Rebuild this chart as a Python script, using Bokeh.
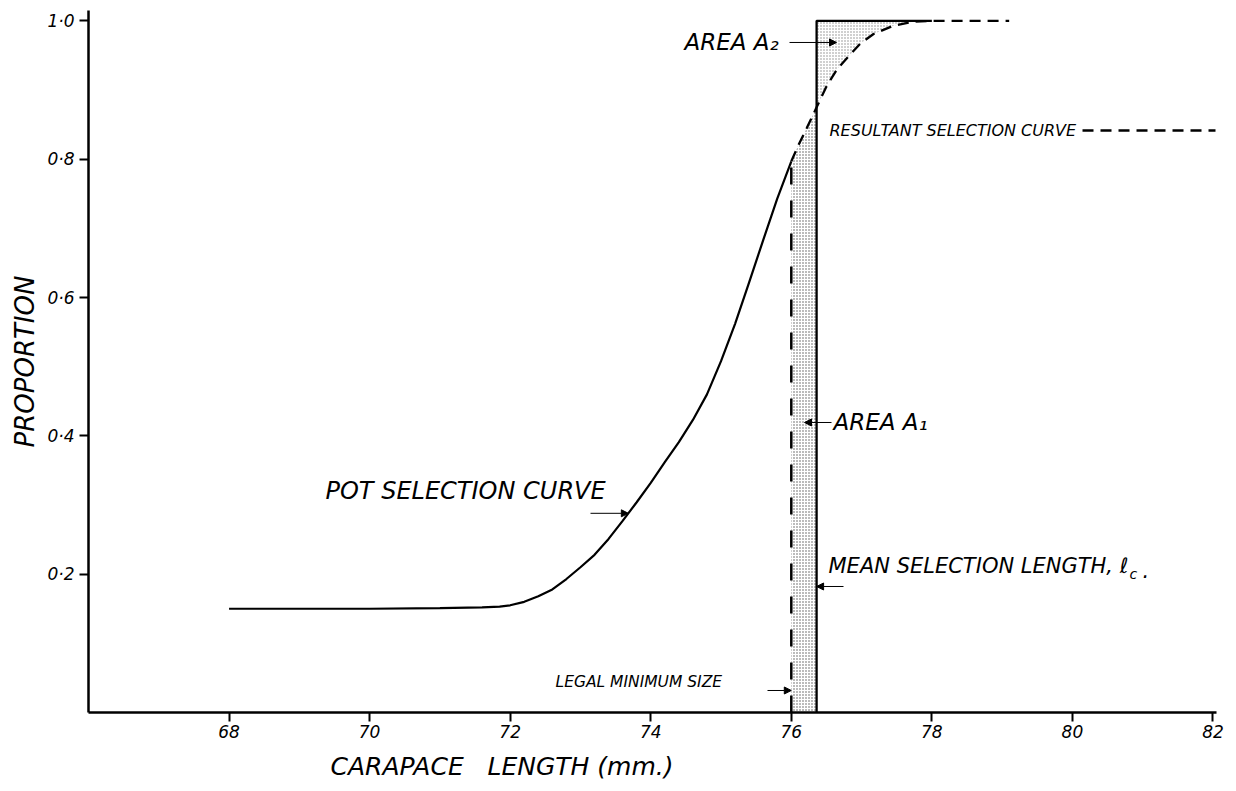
import numpy as np
from bokeh.plotting import figure
from bokeh.models import Range1d, Label, Arrow, NormalHead, FixedTicker, Title
from bokeh.embed import file_html
from bokeh.resources import INLINE

# Pot selection curve: proportion retained against carapace length (mm)
pot_length = [68.0, 69.0, 70.0, 71.0, 71.6, 71.85, 72.0, 72.2, 72.4, 72.6,
              72.8, 73.0, 73.2, 73.4, 73.6, 73.8, 74.0, 74.2, 74.4, 74.6,
              74.8, 75.0, 75.2, 75.4, 75.6, 75.8, 76.0]
pot_prop = [0.150, 0.150, 0.150, 0.151, 0.152, 0.153, 0.155, 0.160, 0.168, 0.178,
            0.193, 0.210, 0.228, 0.251, 0.277, 0.304, 0.332, 0.362, 0.391, 0.423,
            0.460, 0.508, 0.562, 0.622, 0.683, 0.743, 0.797]

# Resultant selection curve once the legal minimum size applies
res_length = [76.0, 76.1, 76.22, 76.36, 76.5, 76.65, 76.8, 76.98, 77.17, 77.45,
              77.74, 78.0, 79.1]
res_prop = [0.797, 0.820, 0.845, 0.875, 0.905, 0.930, 0.947, 0.967, 0.981, 0.993,
            0.999, 1.0, 1.0]

legal_min = 76.0      # legal minimum size
mean_sel = 76.36      # mean selection length, l_c
knife_top = 78.0      # where the knife-edge step rejoins the curve

x_ticks = [68, 70, 72, 74, 76, 78, 80, 82]
y_ticks = [0.2, 0.4, 0.6, 0.8, 1.0]
y_tick_labels = ["0·2", "0·4", "0·6", "0·8", "1·0"]

FONT = "DejaVu Sans"
SP = "\u00a0"

p = figure(width=1236, height=791, output_backend="svg", toolbar_location=None,
           x_range=Range1d(66, 82.05), y_range=Range1d(0, 1.015),
           min_border_left=88, min_border_right=20, min_border_top=10,
           min_border_bottom=79)
p.outline_line_color = None
p.grid.visible = False
p.background_fill_color = "white"

for ax in (p.xaxis[0], p.yaxis[0]):
    ax.axis_line_width = 2.5
    ax.axis_line_color = "black"
    ax.major_tick_line_width = 2
    ax.major_tick_out = 9
    ax.major_tick_in = 0
    ax.minor_tick_line_color = None
    ax.major_label_text_font = FONT
    ax.major_label_text_font_style = "italic"
    ax.major_label_text_font_size = "17px"
    ax.major_label_text_color = "black"

p.xaxis.ticker = FixedTicker(ticks=x_ticks)
p.xaxis.major_label_standoff = 3
p.yaxis.ticker = FixedTicker(ticks=y_ticks)
p.yaxis.major_label_overrides = {t: s for t, s in zip(y_ticks, y_tick_labels)}
p.yaxis.major_label_standoff = 5

# Axis titles
p.add_layout(Title(text=SP.join(["CARAPACE", "", "", "LENGTH", "(mm.)"]),
                   align="left", offset=242, standoff=19, text_font=FONT,
                   text_font_style="italic", text_font_size="25px",
                   text_color="black"), "below")
p.add_layout(Title(text="PROPORTION", align="center", text_font=FONT,
                   text_font_style="italic", text_font_size="26px",
                   text_color="black"), "left")

res_x = np.array(res_length)
res_y = np.array(res_prop)
top_at_mean = float(np.interp(mean_sel, res_x, res_y))

# Stippled areas A1 (below the curve) and A2 (above the curve)
m1 = res_x < mean_sel
a1_x = list(res_x[m1]) + [mean_sel]
a1_top = list(res_y[m1]) + [top_at_mean]
p.varea(x=a1_x, y1=[0] * len(a1_x), y2=a1_top, fill_alpha=0,
        hatch_pattern="dot", hatch_scale=3, hatch_color="#555555",
        hatch_weight=0.8)

m2 = (res_x > mean_sel) & (res_x <= knife_top)
a2_x = [mean_sel] + list(res_x[m2])
a2_bot = [top_at_mean] + list(res_y[m2])
p.varea(x=a2_x, y1=a2_bot, y2=[1.0] * len(a2_x), fill_alpha=0,
        hatch_pattern="dot", hatch_scale=3, hatch_color="#888888",
        hatch_weight=0.8)

# Pot selection curve
p.line(pot_length, pot_prop, line_color="black", line_width=2.2)

# Legal minimum size: dashed vertical up to the pot curve
pot_at_legal = float(np.interp(legal_min, pot_length, pot_prop))
p.line([legal_min, legal_min], [0, pot_at_legal], line_color="black",
       line_width=2.5, line_dash="17 16")

# Resultant selection curve
p.line(res_length, res_prop, line_color="black", line_width=2.3,
       line_dash="11 7")

# Knife-edge selection at the mean selection length
p.line([mean_sel, mean_sel, knife_top], [0, 1.0, 1.0], line_color="black",
       line_width=2.3)


def px(xp):
    return 66 + (xp - 88) / 70.28


def py(yp):
    return (712 - yp) / 691.6


def label(x, y, text, size, **kw):
    p.add_layout(Label(x=x, y=y, text=text, text_font=FONT,
                       text_font_style="italic", text_font_size=size,
                       text_color="black", text_baseline="middle", **kw))


def arrow(x0, y0, x1, y1):
    p.add_layout(Arrow(end=NormalHead(size=7, fill_color="black",
                                      line_color="black", line_width=1),
                       x_start=x0, y_start=y0, x_end=x1, y_end=y1,
                       line_color="black", line_width=1))


# Pot selection curve note
y_pot = 0.288
label(px(325), py(491), SP.join(["POT", "SELECTION", "CURVE"]), "24px")
arrow(px(590), y_pot, float(np.interp(y_pot, pot_prop, pot_length)), y_pot)

# Area A2
label(px(684), py(42), "AREA" + SP + "A₂", "23px")
arrow(px(789), py(42), px(836), py(42))

# Resultant curve key
y_res = py(130)
label(px(829), y_res, SP.join(["RESULTANT", "SELECTION", "CURVE"]), "16px")
p.line([px(1082), px(1215)], [y_res, y_res], line_color="black",
       line_width=2.3, line_dash="11 7")

# Area A1
label(px(833), py(422), "AREA" + SP + "A₁", "23px")
arrow(px(831), py(422), px(804), py(422))

# Mean selection length
label(px(828), py(566), SP.join(["MEAN", "SELECTION", "LENGTH,", "ℓ"]), "21px")
label(px(1129), py(574), "c", "14px")
label(px(1142), py(570), ".", "21px")
arrow(px(843), py(586), mean_sel, py(586))

# Legal minimum size
label(px(555), py(682), SP.join(["LEGAL", "MINIMUM", "SIZE"]), "15.5px")
arrow(px(767), py(690), legal_min, py(690))

open("out.html", "w").write(file_html(p, INLINE))
